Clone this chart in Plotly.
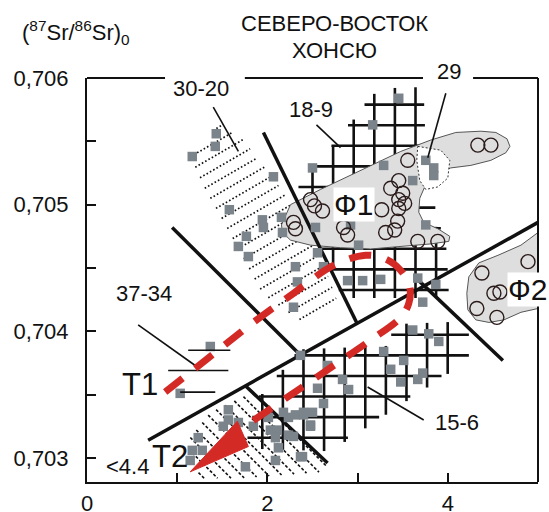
import numpy as np
import plotly.graph_objects as go

# ---------------- axes ----------------
X_RANGE = [0, 5]
Y_RANGE = [0.70281, 0.706]
X_TICKS = [0, 2, 4]
X_TICKTEXT = ["0", "2", "4"]
X_MINOR = [1, 3]
Y_TICKS = [0.703, 0.704, 0.705, 0.706]
Y_TICKTEXT = ["0,703", "0,704", "0,705", "0,706"]
Y_MINOR = [0.7035, 0.7045, 0.7055]

# ---------------- data: grey squares (samples) ----------------
sq_x = [1.167, 1.433, 1.422, 2.067, 1.578, 1.944, 1.956, 2.156, 2.167, 1.767,
        1.678, 1.789, 2.311, 2.333, 2.289, 2.533, 2.556, 2.622, 2.5,
        3.456, 3.167, 3.289, 3.611, 3.756, 3.844, 3.844, 2.922, 3.011, 2.889,
        3.056, 3.256, 3.667, 3.722, 3.756, 3.867,
        3.611, 3.789, 3.9, 3.289, 3.511, 3.367, 3.478, 3.667, 3.722, 2.833,
        2.9, 2.622, 2.4, 2.478, 2.367, 2.667, 2.556, 2.389,
        1.367, 1.033,
        1.567, 1.567, 1.678, 1.844, 1.511, 2.011, 2.033, 2.178, 2.233, 2.311,
        2.4, 2.5, 2.478, 2.111, 2.089, 2.233, 2.289, 2.122, 2.089, 2.367,
        1.233, 1.167, 1.278, 1.144, 1.756]
sq_y = [0.70538, 0.70556, 0.70546, 0.70522, 0.70496, 0.70488, 0.70482, 0.70490, 0.70478, 0.70475,
        0.70467, 0.70459, 0.70451, 0.70439, 0.70419, 0.70482, 0.70462, 0.70451, 0.70529,
        0.70584, 0.70563, 0.70531, 0.70519, 0.70535, 0.70529, 0.70523, 0.70484, 0.70468, 0.70440,
        0.70440, 0.70441, 0.70442, 0.70423, 0.70484, 0.70437,
        0.70401, 0.70398, 0.70392, 0.70384, 0.70377, 0.70370, 0.70360, 0.70362, 0.70367, 0.70362,
        0.70354, 0.70343, 0.70334, 0.70326, 0.70381, 0.70373, 0.70355, 0.70301,
        0.70388, 0.70351,
        0.70338, 0.70330, 0.70328, 0.70325, 0.70325, 0.70332, 0.70322, 0.70336, 0.70332, 0.70334,
        0.70336, 0.70336, 0.70325, 0.70322, 0.70316, 0.70318, 0.70317, 0.70308, 0.70298, 0.70301,
        0.70316, 0.70306, 0.70306, 0.70298, 0.70293]

# open circles, field F1
f1_x = [2.289, 2.311, 2.478, 2.522, 2.611, 2.844, 2.889, 3.556, 3.456, 3.367, 3.5,
        3.456, 3.522, 3.456, 3.444, 3.311, 3.411, 3.667, 3.889, 4.333, 4.478, 3.267]
f1_y = [0.70486, 0.70481, 0.70504, 0.70499, 0.70495, 0.70482, 0.70476, 0.70535, 0.70519, 0.70513, 0.70509,
        0.70504, 0.70501, 0.70497, 0.70487, 0.70478, 0.70480, 0.70471, 0.70471, 0.70547, 0.70547, 0.70496]
# open circles, field F2
f2_x = [4.378, 4.889, 4.511, 4.578, 4.322, 4.544]
f2_y = [0.70446, 0.70455, 0.70430, 0.70431, 0.70418, 0.70411]

# field outlines
f1_poly_x = [2.156, 2.256, 2.589, 3.033, 3.478, 3.811, 4.089, 4.367, 4.533, 4.656, 4.689, 4.644,
             4.478, 4.256, 4.033, 3.878, 3.756, 3.689, 3.678, 3.733, 3.889, 4.022, 4.011, 3.811,
             3.478, 3.144, 2.811, 2.478, 2.256, 2.167]
f1_poly_y = [0.70484, 0.70500, 0.70512, 0.70527, 0.70542, 0.70551, 0.70557, 0.70558, 0.70557, 0.70552,
             0.70546, 0.70541, 0.70535, 0.70531, 0.70529, 0.70524, 0.70516, 0.70505, 0.70494, 0.70486,
             0.70481, 0.70475, 0.70471, 0.70469, 0.70467, 0.70465, 0.70466, 0.70468, 0.70472, 0.70478]
f2_poly_x = [4.233, 4.344, 4.556, 4.811, 5.0, 5.0, 4.811, 4.622, 4.456, 4.311, 4.222, 4.211]
f2_poly_y = [0.70443, 0.70454, 0.70460, 0.70468, 0.70478, 0.70418, 0.70415, 0.70409, 0.70407,
             0.70409, 0.70417, 0.70430]
notch_x = [3.667, 3.922, 4.022, 4.0, 3.889, 3.756, 3.689, 3.656]
notch_y = [0.70546, 0.70543, 0.70535, 0.70521, 0.70514, 0.70512, 0.70519, 0.70535]

# hatched / gridded age fields
h3020_x = [1.122, 1.5, 1.733, 2.2, 2.567, 2.789, 2.344, 1.944, 1.533, 1.311]
h3020_y = [0.70542, 0.70564, 0.70551, 0.70508, 0.70464, 0.70421, 0.70409, 0.70430, 0.70484, 0.70512]
h44_x = [1.122, 1.367, 1.811, 2.256, 2.7, 2.611, 1.7, 1.256]
h44_y = [0.70314, 0.70336, 0.70351, 0.70330, 0.70297, 0.70289, 0.70284, 0.70284]
g189_x = [3.233, 3.667, 3.7, 3.922, 3.944, 2.867, 2.7, 2.389]
g189_y = [0.70587, 0.70588, 0.70523, 0.70464, 0.70431, 0.70431, 0.70460, 0.70512]
g156_x = [1.833, 1.944, 2.367, 3.422, 3.444, 4.167, 4.167, 2.7]
g156_y = [0.70312, 0.70346, 0.70381, 0.70384, 0.70401, 0.70403, 0.70379, 0.70310]
g189_anchor = (2.5, 0.70579)
g156_anchor = (2.4, 0.70381)

# boundary lines (thick)
bound_x = [[0.944, 2.367], [0.678, 5.0], [1.956, 2.989], [3.678, 4.611], [1.756, 2.667]]
bound_y = [[0.70482, 0.70381], [0.70314, 0.70486], [0.70557, 0.70407], [0.70440, 0.70377], [0.70357, 0.70296]]

# leader / marker lines (thin)
lead_x = [[1.4, 1.678], [2.544, 2.811], [3.978, 3.778], [0.567, 1.2], [3.111, 3.733],
          [1.122, 1.589], [0.9, 1.567], [1.033, 1.422]]
lead_y = [[0.70577, 0.70542], [0.70563, 0.70545], [0.70588, 0.70537], [0.70405, 0.70373],
          [0.70356, 0.70330], [0.70385, 0.70385], [0.70369, 0.70369], [0.70352, 0.70352]]

# evolution trend (red dashed) and T2 wedge
trend_x = [0.867, 1.4, 1.844, 2.289, 2.733, 3.089, 3.311, 3.478, 3.578, 3.567, 3.478,
           3.144, 2.756, 2.367, 1.833]
trend_y = [0.70352, 0.70382, 0.70407, 0.70430, 0.70452, 0.70460, 0.70457, 0.70448, 0.70435,
           0.70422, 0.70411, 0.70393, 0.70374, 0.70355, 0.70329]
wedge_x = [1.144, 1.667, 1.789]
wedge_y = [0.70289, 0.70329, 0.70309]

# labels inside the plot (data coordinates)
lab_text = ["30-20", "18-9", "37-34", "15-6", "&lt;4.4"]
lab_x = [1.267, 2.478, 0.633, 4.1, 0.444]
lab_y = [0.70592, 0.70575, 0.70430, 0.70328, 0.70293]
big_text = ["T1", "T2"]
big_x = [0.589, 0.922]
big_y = [0.70358, 0.70301]
field_text = ["Ф1", "Ф2"]
field_x = [2.956, 4.889]
field_y = [0.70500, 0.70433]
# labels above the plot (paper coordinates)
top_text = ["(<sup>87</sup>Sr/<sup>86</sup>Sr)<sub>0</sub>", "СЕВЕРО-ВОСТОК", "ХОНСЮ", "29"]
top_x = [-0.1486, 0.5477, 0.5477, 0.8027]
top_y = [1.1114, 1.1337, 1.0693, 1.0149]
top_anchor = ["left", "center", "center", "center"]

# ---------------- layout geometry ----------------
W, H = 549, 512
ML, MR, MT, MB = 87, 11, 78, 30
KX = (W - ML - MR) / (X_RANGE[1] - X_RANGE[0])
KY = (H - MT - MB) / (Y_RANGE[1] - Y_RANGE[0])

FONT = "Liberation Sans, Arial, sans-serif"
BLACK = "#111111"
RED = "#d42a26"
GREY = "#7b848a"


def to_s(x, y):
    return np.array([(x - X_RANGE[0]) * KX, (y - Y_RANGE[0]) * KY])


def from_s(p):
    return p[0] / KX + X_RANGE[0], p[1] / KY + Y_RANGE[0]


def hatch(px, py, angle, spacing, anchor=None, ext=0.0):
    pts = np.array([to_s(a, b) for a, b in zip(px, py)])
    t = np.radians(angle)
    d = np.array([np.cos(t), np.sin(t)])
    n = np.array([-np.sin(t), np.cos(t)])
    ph = 0.0 if anchor is None else float(to_s(*anchor) @ n)
    pn = pts @ n
    k0 = int(np.ceil((pn.min() - ph) / spacing))
    k1 = int(np.floor((pn.max() - ph) / spacing))
    xs, ys = [], []
    m = len(pts)
    for k in range(k0, k1 + 1):
        c = ph + k * spacing
        ts = []
        for i in range(m):
            p, q = pts[i], pts[(i + 1) % m]
            a1, b1 = p @ n - c, q @ n - c
            if (a1 < 0) != (b1 < 0):
                r = p + a1 / (a1 - b1) * (q - p)
                ts.append(float(r @ d))
        ts.sort()
        for j in range(0, len(ts) - 1, 2):
            for tt in (ts[j] - ext, ts[j + 1] + ext):
                x, y = from_s(c * n + tt * d)
                xs.append(x)
                ys.append(y)
            xs.append(None)
            ys.append(None)
    return xs, ys


def segs(xl, yl):
    xs, ys = [], []
    for a, b in zip(xl, yl):
        xs += list(a) + [None]
        ys += list(b) + [None]
    return xs, ys


fig = go.Figure()

# dotted hatch fields
hx, hy = hatch(h3020_x, h3020_y, 30, 11.5)
fig.add_trace(go.Scatter(x=hx, y=hy, mode="lines",
                         line=dict(color=BLACK, width=1.7, dash="1.6px,2.2px")))
hx, hy = hatch(h44_x, h44_y, -45, 9.5)
fig.add_trace(go.Scatter(x=hx, y=hy, mode="lines",
                         line=dict(color=BLACK, width=1.6, dash="3px,2px")))

# gridded fields
for gx, gy, anc in [(g189_x, g189_y, g189_anchor), (g156_x, g156_y, g156_anchor)]:
    for ang in (0, 90):
        hx, hy = hatch(gx, gy, ang, 20.6, anchor=anc, ext=6)
        fig.add_trace(go.Scatter(x=hx, y=hy, mode="lines",
                                 line=dict(color=BLACK, width=2.6)))

# fields F1, F2
for px, py in [(f1_poly_x, f1_poly_y), (f2_poly_x, f2_poly_y)]:
    fig.add_trace(go.Scatter(x=px + [px[0]], y=py + [py[0]], mode="lines",
                             fill="toself", fillcolor="#dedede",
                             line=dict(color="#555555", width=1)))
fig.add_trace(go.Scatter(x=notch_x + [notch_x[0]], y=notch_y + [notch_y[0]], mode="lines",
                         fill="toself", fillcolor="white",
                         line=dict(color="#333333", width=1, dash="2px,2px")))

# thick boundary lines
bx, by = segs(bound_x, bound_y)
fig.add_trace(go.Scatter(x=bx, y=by, mode="lines", line=dict(color=BLACK, width=3.5)))

# grey squares
fig.add_trace(go.Scatter(x=sq_x, y=sq_y, mode="markers",
                         marker=dict(symbol="square", size=9.5, color=GREY)))

# open circles
fig.add_trace(go.Scatter(x=f1_x + f2_x, y=f1_y + f2_y, mode="markers",
                         marker=dict(symbol="circle-open", size=14, color="#2a1a1a",
                                     line=dict(width=1.4))))

# leader lines
lx, ly = segs(lead_x, lead_y)
fig.add_trace(go.Scatter(x=lx, y=ly, mode="lines", line=dict(color=BLACK, width=1.6)))

# red trend and wedge
fig.add_trace(go.Scatter(x=trend_x, y=trend_y, mode="lines",
                         line=dict(color=RED, width=7, dash="22px,16px", shape="spline",
                                   smoothing=1.0)))
fig.add_trace(go.Scatter(x=wedge_x + [wedge_x[0]], y=wedge_y + [wedge_y[0]], mode="lines",
                         fill="toself", fillcolor=RED, line=dict(color=RED, width=1)))

# ---------------- annotations ----------------
ann = []
for t, x, y in zip(lab_text, lab_x, lab_y):
    ann.append(dict(x=x, y=y, text=t, showarrow=False, font=dict(size=22, color=BLACK, family=FONT)))
for t, x, y in zip(big_text, big_x, big_y):
    ann.append(dict(x=x, y=y, text=t, showarrow=False, font=dict(size=31, color=BLACK, family=FONT)))
for t, x, y in zip(field_text, field_x, field_y):
    ann.append(dict(x=x, y=y, text=t, showarrow=False, bgcolor="white", borderpad=0,
                    font=dict(size=30, color=BLACK, family=FONT)))
for t, x, y, a in zip(top_text, top_x, top_y, top_anchor):
    ann.append(dict(x=x, y=y, xref="paper", yref="paper", xanchor=a, yanchor="middle",
                    text=t, showarrow=False, font=dict(size=22, color=BLACK, family=FONT)))

# frame pieces: right edge and broken top edge
shapes = [
    dict(type="line", xref="paper", yref="paper", x0=1, x1=1, y0=0, y1=1,
         line=dict(color=BLACK, width=2)),
    dict(type="line", xref="paper", yref="paper", x0=0, x1=0.173, y0=1, y1=1,
         line=dict(color=BLACK, width=2)),
    dict(type="line", xref="paper", yref="paper", x0=0.350, x1=0.745, y0=1, y1=1,
         line=dict(color=BLACK, width=2)),
    dict(type="line", xref="paper", yref="paper", x0=0.856, x1=1, y0=1, y1=1,
         line=dict(color=BLACK, width=2)),
]

fig.update_layout(
    width=W, height=H, autosize=False,
    margin=dict(l=ML, r=MR, t=MT, b=MB),
    paper_bgcolor="white", plot_bgcolor="white",
    showlegend=False, hovermode=False,
    annotations=ann, shapes=shapes,
    xaxis=dict(range=X_RANGE, tickmode="array", tickvals=X_TICKS, ticktext=X_TICKTEXT,
               ticks="inside", ticklen=9, tickwidth=2, tickcolor=BLACK, showline=True,
               linewidth=2, linecolor=BLACK, showgrid=False, zeroline=False,
               ticklabelstandoff=1, automargin=False,
               minor=dict(tickmode="array", tickvals=X_MINOR, ticks="inside", ticklen=9,
                          tickwidth=2, tickcolor=BLACK, showgrid=False),
               tickfont=dict(size=22, color=BLACK, family=FONT)),
    yaxis=dict(range=Y_RANGE, tickmode="array", tickvals=Y_TICKS, ticktext=Y_TICKTEXT,
               ticks="inside", ticklen=9, tickwidth=2, tickcolor=BLACK, showline=True,
               linewidth=2, linecolor=BLACK, showgrid=False, zeroline=False,
               ticklabelstandoff=12, automargin=False,
               minor=dict(tickmode="array", tickvals=Y_MINOR, ticks="inside", ticklen=9,
                          tickwidth=2, tickcolor=BLACK, showgrid=False),
               tickfont=dict(size=22, color=BLACK, family=FONT)),
)

fig.write_html("out.html")
